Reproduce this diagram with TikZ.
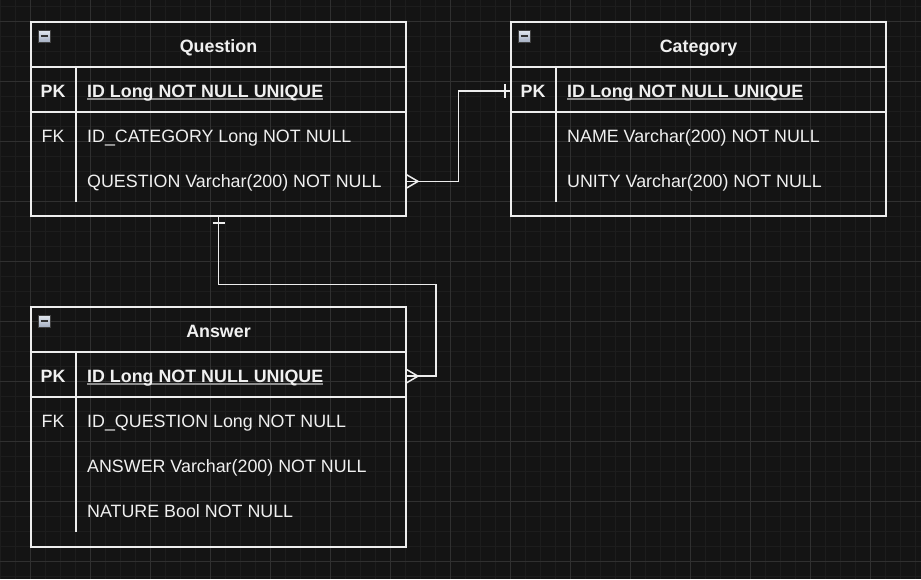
\documentclass[tikz,border=0pt]{standalone}
\usepackage{fontspec}
\setmainfont{Liberation Sans}
\usetikzlibrary{positioning}
\usetikzlibrary{calc}

\definecolor{canvasbg}{HTML}{141414}
\definecolor{gridminor}{HTML}{1D1D1D}
\definecolor{gridmajor}{HTML}{303030}
\definecolor{tableline}{HTML}{EDEDED}
\definecolor{labeltext}{HTML}{F0F0F0}
\definecolor{ulgray}{HTML}{8C8C8C}
\definecolor{icontop}{HTML}{E3E8F0}
\definecolor{iconbottom}{HTML}{A5AFC2}

\newcommand{\pkline}[1]{\setbox0\hbox{#1}\rlap{\color{ulgray}\rule[-3pt]{\wd0}{1.8pt}}\box0}

\tikzset{
  minorline/.style={draw=gridminor, line width=1pt},
  majorline/.style={draw=gridmajor, line width=1pt},
  tablebox/.style={draw=tableline, line width=1.5pt, anchor=north west, minimum width=375pt, inner sep=0pt, outer sep=0pt},
  tablerule/.style={draw=tableline, line width=1.5pt},
  colrule/.style={draw=tableline, line width=1.2pt},
  titletext/.style={anchor=base, inner sep=0pt, text=labeltext, font=\fontsize{17.85}{21}\selectfont\bfseries},
  keytext/.style={anchor=base, inner sep=0pt, text=labeltext, font=\fontsize{17.85}{21}\selectfont},
  pkkey/.style={keytext, font=\fontsize{17.85}{21}\selectfont\bfseries},
  fieldtext/.style={anchor=base west, inner sep=0pt, text=labeltext, font=\fontsize{17.85}{21}\selectfont},
  pkfield/.style={fieldtext, font=\fontsize{17.85}{21}\selectfont\bfseries},
  minusicon/.style={draw=black!75, line width=0.8pt, minimum size=12pt, inner sep=0pt,
    top color=icontop, bottom color=iconbottom,
    path picture={\draw[black!80, line width=1.8pt] ([xshift=-3.5pt]path picture bounding box.center) -- ([xshift=3.5pt]path picture bounding box.center);}},
  relation/.style={draw=tableline, line width=1.5pt},
}

\begin{document}
\begin{tikzpicture}[x=1pt, y=-1pt]

 %canvas
 \useasboundingbox (0,0) rectangle (921,579);
 \fill[canvasbg] (0,0) rectangle (921,579);
 \foreach \gx in {0,15,...,915} {
    \draw[minorline] (\gx,0) -- (\gx,579);
 }
 \foreach \gy in {6.5,21.5,...,576.5} {
    \draw[minorline] (0,\gy) -- (921,\gy);
 }
 \foreach \gx in {30,90,...,870} {
    \draw[majorline] (\gx,0) -- (\gx,579);
 }
 \foreach \gy in {21.5,81.5,...,561.5} {
    \draw[majorline] (0,\gy) -- (921,\gy);
 }

 %Question
 \def\dx{31}
 \def\dy{22}
  \node[tablebox, minimum height=194pt] (question) at (\dx,\dy) {};
  \node[minusicon] (questionIcon) at (\dx+13,\dy+14) {};
  \node[titletext] (questionTitle) at (\dx+187.5,\dy+30) {Question};
  \draw[tablerule] (\dx,\dy+45) -- (\dx+375,\dy+45);
  \draw[tablerule] (\dx,\dy+90) -- (\dx+375,\dy+90);
  \draw[colrule] (\dx+45,\dy+45) -- (\dx+45,\dy+180);
  \node[pkkey] (questionPK) at (\dx+22,\dy+75) {PK};
  \node[pkfield] (questionF1) at (\dx+56,\dy+75) {\pkline{ID Long NOT NULL UNIQUE}};
  \node[keytext] (questionFK) at (\dx+22,\dy+120) {FK};
  \foreach \i/\field in {2/{ID\_CATEGORY Long NOT NULL}, 3/{QUESTION Varchar(200) NOT NULL}} {
         \node[fieldtext] (questionF\i) at (\dx+56,\dy+45*\i+30) {\field};
  }

 %Category
 \def\dx{511}
 \def\dy{22}
  \node[tablebox, minimum height=194pt] (category) at (\dx,\dy) {};
  \node[minusicon] (categoryIcon) at (\dx+13,\dy+14) {};
  \node[titletext] (categoryTitle) at (\dx+187.5,\dy+30) {Category};
  \draw[tablerule] (\dx,\dy+45) -- (\dx+375,\dy+45);
  \draw[tablerule] (\dx,\dy+90) -- (\dx+375,\dy+90);
  \draw[colrule] (\dx+45,\dy+45) -- (\dx+45,\dy+180);
  \node[pkkey] (categoryPK) at (\dx+22,\dy+75) {PK};
  \node[pkfield] (categoryF1) at (\dx+56,\dy+75) {\pkline{ID Long NOT NULL UNIQUE}};
  \foreach \i/\field in {2/{NAME Varchar(200) NOT NULL}, 3/{UNITY Varchar(200) NOT NULL}} {
         \node[fieldtext] (categoryF\i) at (\dx+56,\dy+45*\i+30) {\field};
  }

 %Answer
 \def\dx{31}
 \def\dy{307}
  \node[tablebox, minimum height=240pt] (answer) at (\dx,\dy) {};
  \node[minusicon] (answerIcon) at (\dx+13,\dy+14) {};
  \node[titletext] (answerTitle) at (\dx+187.5,\dy+30) {Answer};
  \draw[tablerule] (\dx,\dy+45) -- (\dx+375,\dy+45);
  \draw[tablerule] (\dx,\dy+90) -- (\dx+375,\dy+90);
  \draw[colrule] (\dx+45,\dy+45) -- (\dx+45,\dy+225);
  \node[pkkey] (answerPK) at (\dx+22,\dy+75) {PK};
  \node[pkfield] (answerF1) at (\dx+56,\dy+75) {\pkline{ID Long NOT NULL UNIQUE}};
  \node[keytext] (answerFK) at (\dx+22,\dy+120) {FK};
  \foreach \i/\field in {2/{ID\_QUESTION Long NOT NULL}, 3/{ANSWER Varchar(200) NOT NULL}, 4/{NATURE Bool NOT NULL}} {
         \node[fieldtext] (answerF\i) at (\dx+56,\dy+45*\i+30) {\field};
  }

 %relation question - category
  \coordinate (qOut) at (question.east |- questionF3.center);
  \coordinate (cIn) at (category.west |- categoryF1.center);
  \coordinate (qOut) at ($(qOut)+(0,-1)$);
  \coordinate (cIn) at ($(cIn)+(0,-1.5)$);
  \draw[relation] (qOut) -| ($(qOut)!.5!(cIn)$) |- (cIn);
  \draw[relation] (qOut) ++(0,-7) -- ++(12,7) -- ++(-12,7);
  \draw[relation] (cIn) ++(-6,-7) -- ++(0,14);

 %relation question - answer
  \coordinate (aIn) at (answer.east |- answerF1.center);
  \coordinate (aIn) at ($(aIn)+(0,-1.5)$);
  \draw[relation] (question.south) -- ++(0,68.5) -| ($(aIn)+(30,0)$) -- (aIn);
  \draw[relation] (question.south) ++(-6,7) -- ++(12,0);
  \draw[relation] (aIn) ++(0,-7) -- ++(12,7) -- ++(-12,7);

\end{tikzpicture}
\end{document}
